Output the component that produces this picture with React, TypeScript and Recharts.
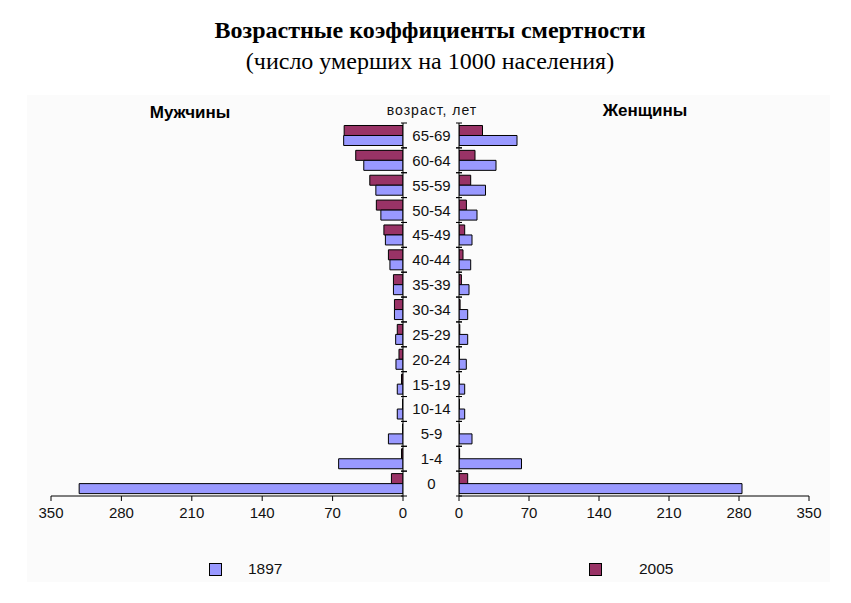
import { BarChart, Bar, XAxis, YAxis } from 'recharts';

// age groups, bottom to top
const ages = ['0', '1-4', '5-9', '10-14', '15-19', '20-24', '25-29', '30-34', '35-39', '40-44', '45-49', '50-54', '55-59', '60-64', '65-69'];

const men1897 = [322, 64, 14.5, 5.7, 5.7, 7, 7.3, 8.5, 9.5, 13, 17.5, 22, 27, 39, 59];
const men2005 = [11.5, 1.5, 0.4, 0.4, 1.5, 4, 5.7, 8.5, 9.5, 14.5, 19, 26.5, 33, 47, 58.5];
const women1897 = [283, 62.5, 13, 5.7, 5.7, 7.3, 8.7, 8.7, 10, 11.7, 13, 18, 26.5, 37, 58];
const women2005 = [8.7, 0.6, 0.3, 0.3, 0.4, 0.5, 0.8, 1.1, 2.4, 4, 5.7, 7.4, 11.7, 16, 23.5];

const xTicks = [0, 70, 140, 210, 280, 350];

const menData = ages.map((age, i) => ({ age, y1897: men1897[i], y2005: men2005[i] })).reverse();
const womenData = ages.map((age, i) => ({ age, y1897: women1897[i], y2005: women2005[i] })).reverse();

const C1897 = '#9999FF';
const C2005 = '#993366';
const SANS = '"Liberation Sans", Arial, sans-serif';
const SERIF = '"Liberation Serif", "Times New Roman", serif';

const TOP = 123;
const BOTTOM = 496;
const BAND = (BOTTOM - TOP) / ages.length;

// tick marks sit on category boundaries, crossing the axis line
const boundaryTick = (axisX: number, label: boolean) => (props: any) => {
  const { y, payload } = props;
  return (
    <g>
      <line x1={axisX - 3} x2={axisX + 3} y1={y + BAND / 2} y2={y + BAND / 2} stroke="#000" />
      <line x1={axisX - 3} x2={axisX + 3} y1={y - BAND / 2} y2={y - BAND / 2} stroke="#000" />
      {label && (
        <text x={27.5} y={y} textAnchor="middle" dominantBaseline="central" fontSize={15} fontFamily={SANS} fill="#111">
          {payload.value}
        </text>
      )}
    </g>
  );
};

const xTick = (props: any) => {
  const { x, y, payload } = props;
  return (
    <text x={x} y={y + 9} textAnchor="middle" dominantBaseline="central" fontSize={15} fontFamily={SANS} fill="#111">
      {payload.value}
    </text>
  );
};

function LegendItem({ x, textX, color, label }: { x: number; textX: number; color: string; label: string }) {
  return (
    <>
      <div style={{ position: 'absolute', left: x, top: 563, width: 11, height: 11, background: color, border: '1px solid #000' }} />
      <div style={{ position: 'absolute', left: textX, top: 560, fontFamily: SANS, fontSize: 15.5, lineHeight: '18px', color: '#111' }}>{label}</div>
    </>
  );
}

export default function App() {
  return (
    <div style={{ position: 'absolute', left: 0, top: 0, width: 851, height: 603, background: '#fff', overflow: 'hidden' }}>
      <div style={{ position: 'absolute', left: 27, top: 95, width: 803, height: 487, background: '#fbfbfb' }} />
      <div style={{ position: 'absolute', left: 0, width: 860, top: 15, textAlign: 'center', fontFamily: SERIF, fontWeight: 'bold', fontSize: 24, lineHeight: '30px' }}>
        Возрастные коэффициенты смертности
      </div>
      <div style={{ position: 'absolute', left: 0, width: 860, top: 46, textAlign: 'center', fontFamily: SERIF, fontSize: 24, lineHeight: '30px' }}>
        (число умерших на 1000 населения)
      </div>
      <div style={{ position: 'absolute', left: 130, width: 120, top: 103, textAlign: 'center', fontFamily: SANS, fontWeight: 'bold', fontSize: 17, lineHeight: '20px' }}>
        Мужчины
      </div>
      <div style={{ position: 'absolute', left: 585, width: 120, top: 101, textAlign: 'center', fontFamily: SANS, fontWeight: 'bold', fontSize: 17, lineHeight: '20px' }}>
        Женщины
      </div>
      <div style={{ position: 'absolute', left: 362, width: 140, top: 101, textAlign: 'center', fontFamily: SANS, fontSize: 14, letterSpacing: 1, lineHeight: '18px', color: '#111' }}>
        возраст, лет
      </div>

      <div style={{ position: 'absolute', left: 0, top: 0 }}>
        <BarChart
          width={410}
          height={603}
          data={menData}
          layout="vertical"
          margin={{ top: TOP, right: 6, bottom: 603 - BOTTOM - 30, left: 51 }}
          barCategoryGap="10%"
          barGap={0}
        >
          <XAxis
            type="number"
            domain={[0, 350]}
            ticks={xTicks}
            reversed
            height={30}
            tickSize={5}
            tick={xTick}
            axisLine={{ stroke: '#000' }}
            tickLine={{ stroke: '#000' }}
            allowDataOverflow
          />
          <YAxis
            type="category"
            dataKey="age"
            orientation="right"
            width={1}
            axisLine={{ stroke: '#000' }}
            tickLine={false}
            tick={boundaryTick(404, false)}
            interval={0}
          />
          <Bar dataKey="y2005" fill={C2005} stroke="#000" strokeWidth={1} isAnimationActive={false} />
          <Bar dataKey="y1897" fill={C1897} stroke="#000" strokeWidth={1} isAnimationActive={false} />
        </BarChart>
      </div>

      <div style={{ position: 'absolute', left: 404, top: 0 }}>
        <BarChart
          width={447}
          height={603}
          data={womenData}
          layout="vertical"
          margin={{ top: TOP, right: 42, bottom: 603 - BOTTOM - 30, left: 0 }}
          barCategoryGap="10%"
          barGap={0}
        >
          <XAxis
            type="number"
            domain={[0, 350]}
            ticks={xTicks}
            height={30}
            tickSize={5}
            tick={xTick}
            axisLine={{ stroke: '#000' }}
            tickLine={{ stroke: '#000' }}
            allowDataOverflow
          />
          <YAxis
            type="category"
            dataKey="age"
            width={55}
            axisLine={{ stroke: '#000' }}
            tickLine={false}
            tick={boundaryTick(55, true)}
            interval={0}
          />
          <Bar dataKey="y2005" fill={C2005} stroke="#000" strokeWidth={1} isAnimationActive={false} />
          <Bar dataKey="y1897" fill={C1897} stroke="#000" strokeWidth={1} isAnimationActive={false} />
        </BarChart>
      </div>

      <LegendItem x={209} textX={248} color={C1897} label="1897" />
      <LegendItem x={589} textX={639} color={C2005} label="2005" />
    </div>
  );
}
